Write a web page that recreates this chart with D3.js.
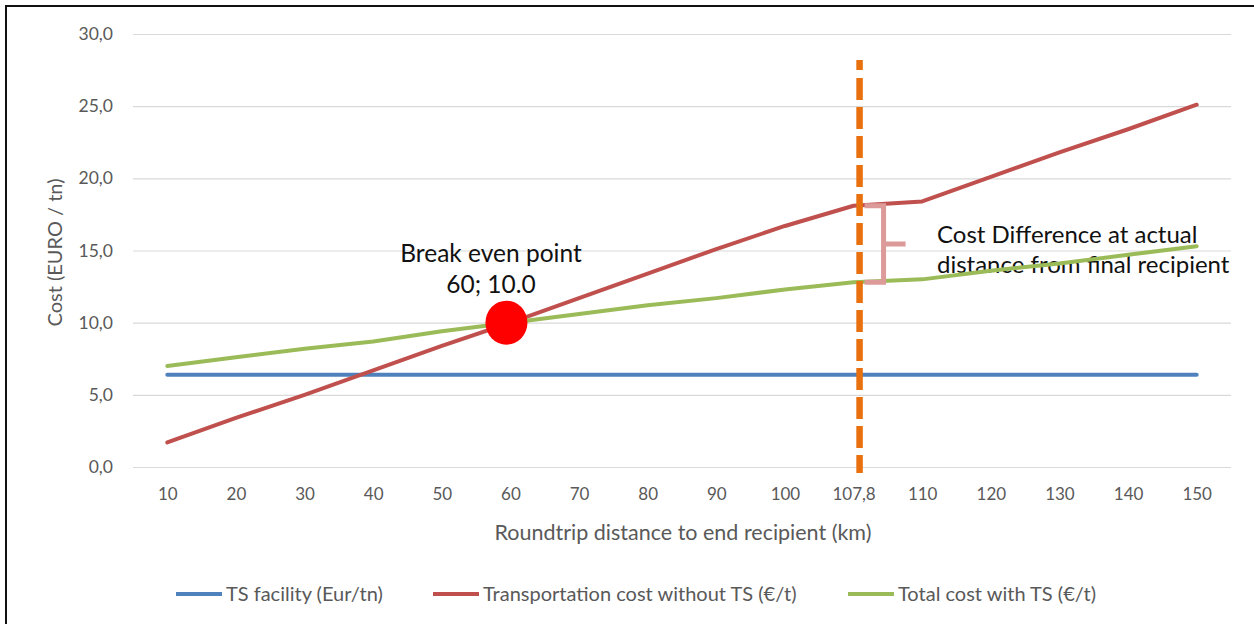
<!DOCTYPE html>
<html>
<head>
<meta charset="utf-8">
<script src="https://cdn.jsdelivr.net/npm/d3@7/dist/d3.min.js"></script>
<style>
  html, body { margin: 0; padding: 0; background: #fff; }
  svg { display: block; }
  text { font-family: Lato, "Open Sans", "Liberation Sans", sans-serif; }
</style>
</head>
<body>
<svg id="chart" width="1254" height="624"></svg>
<script>
// ---- data ----
const categories = ["10","20","30","40","50","60","70","80","90","100","107,8","110","120","130","140","150"];
const tsFacility   = [6.4,6.4,6.4,6.4,6.4,6.4,6.4,6.4,6.4,6.4,6.4,6.4,6.4,6.4,6.4,6.4];
const transportNoTS = [1.7,3.4,5.0,6.7,8.4,10.0,11.7,13.4,15.1,16.7,18.1,18.4,20.1,21.8,23.4,25.1];
const totalWithTS  = [7.0,7.6,8.2,8.7,9.4,10.0,10.6,11.2,11.7,12.3,12.8,13.0,13.6,14.1,14.7,15.3];
const yTicks = [0,5,10,15,20,25,30];
const seriesNames = ["TS facility (Eur/tn)","Transportation cost without TS (\u20ac/t)","Total cost with TS (\u20ac/t)"];
const seriesColors = ["#4F81BD","#C0504D","#9BBB59"];
const breakEven = {x: "60", y: 10.0, label1: "Break even point", label2: "60; 10.0"};
const actualDistance = "107,8";
const diffTop = 18.1, diffBottom = 12.8;
const diffLabel = ["Cost Difference at actual", "distance from final recipient"];
const yTitle = "Cost (EURO / tn)";
const xTitle = "Roundtrip distance to end recipient (km)";

// ---- layout ----
const svg = d3.select("#chart");
const plot = {left: 133, right: 1231, top: 34, bottom: 467};

const x = d3.scalePoint().domain(categories).range([plot.left, plot.right]).padding(0.5);
const y = d3.scaleLinear().domain([0, 30]).range([plot.bottom, plot.top]);

// frame
svg.append("path")
  .attr("d", `M6,624 V6 H1254`)
  .attr("fill", "none").attr("stroke", "#111").attr("stroke-width", 2);

// gridlines
const yAxis = d3.axisLeft(y).tickValues(yTicks)
  .tickSize(-(plot.right - plot.left))
  .tickFormat(d => d3.format(".1f")(d).replace(".", ","));
const gy = svg.append("g").attr("transform", `translate(${plot.left},0)`).call(yAxis);
gy.select(".domain").remove();
gy.selectAll(".tick line").attr("stroke", "#D9D9D9").attr("stroke-width", 1.2);
gy.selectAll(".tick text").attr("x", -20).attr("fill", "#595959")
  .style("font-size", "17.5px");

// x axis labels
const xAxis = d3.axisBottom(x).tickSize(0);
const gx = svg.append("g").attr("transform", `translate(0,${plot.bottom})`).call(xAxis);
gx.select(".domain").remove();
gx.selectAll(".tick text").attr("y", 21).attr("fill", "#595959")
  .style("font-size", "17px");

// axis titles
svg.append("text")
  .attr("transform", `translate(62,${(plot.top+plot.bottom)/2 + 2}) rotate(-90)`)
  .attr("text-anchor", "middle").attr("fill", "#595959")
  .style("font-size", "20px").text(yTitle);
svg.append("text")
  .attr("x", 683).attr("y", 540).attr("text-anchor", "middle")
  .attr("fill", "#595959").style("font-size", "21.5px").text(xTitle);

// annotation texts (under lines)
svg.append("text").attr("x", 491).attr("y", 262).attr("text-anchor", "middle")
  .attr("fill", "#111").style("font-size", "24.5px").text(breakEven.label1);
svg.append("text").attr("x", 491).attr("y", 293).attr("text-anchor", "middle")
  .attr("fill", "#111").style("font-size", "24.5px").text(breakEven.label2);
diffLabel.forEach((t, i) => {
  svg.append("text").attr("x", 937).attr("y", 243 + i * 30)
    .attr("fill", "#111").style("font-size", "24px").text(t);
});

// lines
const allSeries = [tsFacility, transportNoTS, totalWithTS];
const line = d3.line().x((d, i) => x(categories[i])).y(d => y(d));
allSeries.forEach((s, k) => {
  svg.append("path").datum(s)
    .attr("d", line)
    .attr("fill", "none")
    .attr("stroke", seriesColors[k])
    .attr("stroke-width", 4)
    .attr("stroke-linejoin", "round")
    .attr("stroke-linecap", "round");
});

// vertical marker position (placed slightly right of the category centre, as in the source)
const ox = x(actualDistance) + 6;

// bracket
const bx = ox + 24;
const bL = ox + 5;
svg.append("path")
  .attr("d", `M${bL},${y(diffTop)} H${bx} V${y(diffBottom)} H${bL} M${bx},${(y(diffTop)+y(diffBottom))/2} H${bx+22}`)
  .attr("fill", "none").attr("stroke", "#DC9A98").attr("stroke-width", 5);

// vertical dashed line at actual distance
svg.append("line")
  .attr("x1", ox).attr("x2", ox)
  .attr("y1", y(28.2)).attr("y2", y(0) + 6)
  .attr("stroke", "#E8700E").attr("stroke-width", 6.5)
  .attr("stroke-dasharray", "10,8,22,7,22,7,22,7,22,7,22,7,22,7,22,7,22,7,22,7,22,7,22,7,22,7,22,7,22,7,22,7,22,7,22,7,22,7,22,7");

// break-even point
svg.append("ellipse")
  .attr("cx", x(breakEven.x) - 4).attr("cy", y(breakEven.y))
  .attr("rx", 21).attr("ry", 22).attr("fill", "#FF0000");

// legend
const legendX = [176, 433, 848];
seriesNames.forEach((n, k) => {
  const g = svg.append("g").attr("transform", `translate(${legendX[k]},594)`);
  g.append("line").attr("x1", 0).attr("x2", 46).attr("y1", 0).attr("y2", 0)
    .attr("stroke", seriesColors[k]).attr("stroke-width", 4);
  g.append("text").attr("x", 50).attr("y", 7).attr("fill", "#595959")
    .style("font-size", "20px").text(n);
});
</script>
</body>
</html>
